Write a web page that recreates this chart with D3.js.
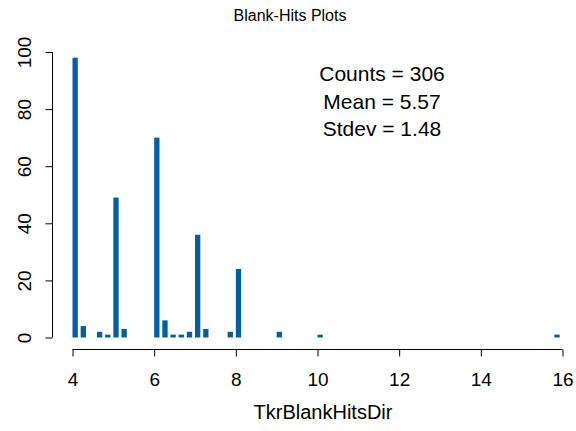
<!DOCTYPE html>
<html>
<head>
<meta charset="utf-8">
<script src="https://cdn.jsdelivr.net/npm/d3@7"></script>
<style>
  body { margin: 0; background: #fff; }
  text { font-family: "Liberation Sans", Arial, sans-serif; fill: #000; }
</style>
</head>
<body>
<script>
// histogram bins (left edge) and their counts
var binStart = [4.0, 4.2, 4.6, 4.8, 5.0, 5.2, 6.0, 6.2, 6.4, 6.6, 6.8, 7.0, 7.2, 7.8, 8.0, 9.0, 10.0, 15.8];
var counts   = [98,  4,   2,   1,   49,  3,   70,  6,   1,   1,   2,   36,  3,   2,   24,  2,   1,    1];
var binWidth = 0.2;

var xTicks = [4, 6, 8, 10, 12, 14, 16];
var yTicks = [0, 20, 40, 60, 80, 100];

var statLines = ["Counts = 306", "Mean = 5.57", "Stdev = 1.48"];

var width = 576, height = 431;

var x = d3.scaleLinear().domain([4, 16]).range([72.5, 562.5]);
var y = d3.scaleLinear().domain([0, 100]).range([337.5, 52]);

var svg = d3.select("body").append("svg")
    .attr("width", width)
    .attr("height", height);

// bars, drawn narrower than the bin like the original
svg.selectAll(".bar")
    .data(binStart)
    .enter()
    .append("rect")
      .attr("x", function (d) { return x(d); })
      .attr("y", function (d, i) { return y(counts[i]); })
      .attr("width", x(4 + binWidth * 0.65) - x(4))
      .attr("height", function (d, i) { return y(0) - y(counts[i]); })
      .attr("fill", "#005fa3");

// x axis
var xAxis = svg.append("g")
    .attr("transform", "translate(0,349.5)")
    .call(d3.axisBottom(x).tickValues(xTicks).tickSize(7).tickPadding(16));
xAxis.select(".domain").attr("d", "M" + x(4) + ",0H" + x(16));
xAxis.selectAll("text").style("font-size", "19px").attr("dy", "0.71em");

// y axis, labels rotated
var yAxis = svg.append("g")
    .attr("transform", "translate(52.5,0)")
    .call(d3.axisLeft(y).tickValues(yTicks).tickSize(7));
yAxis.select(".domain").attr("d", "M0," + y(0) + "V" + y(100));
yAxis.selectAll("text")
    .style("font-size", "19px")
    .attr("text-anchor", "middle")
    .attr("x", 0).attr("y", 0).attr("dy", 0)
    .attr("transform", "translate(-21.5,0) rotate(-90)");
svg.selectAll(".domain, .tick line").attr("stroke", "#000");

// titles
svg.append("text")
    .attr("x", 290).attr("y", 21)
    .attr("text-anchor", "middle")
    .style("font-size", "16px")
    .text("Blank-Hits Plots");

svg.append("text")
    .attr("x", 323).attr("y", 419)
    .attr("text-anchor", "middle")
    .style("font-size", "20px")
    .text("TkrBlankHitsDir");

// stats box text
svg.selectAll(".stat")
    .data(statLines)
    .enter()
    .append("text")
      .attr("x", 382)
      .attr("y", function (d, i) { return 81 + i * 27.5; })
      .attr("text-anchor", "middle")
      .style("font-size", "21px")
      .text(function (d) { return d; });
</script>
</body>
</html>
